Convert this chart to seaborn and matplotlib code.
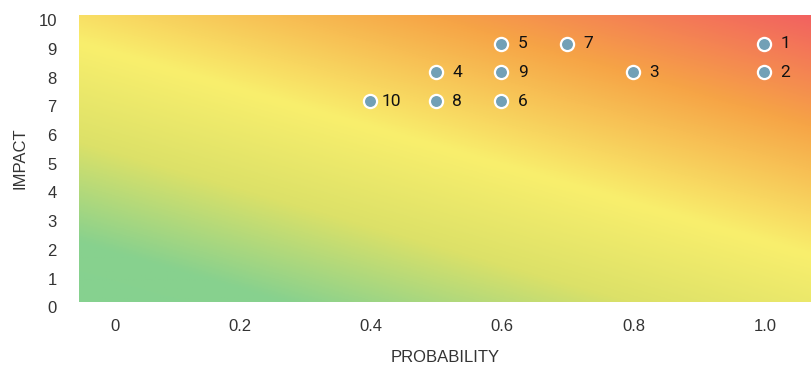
import numpy as np
import pandas as pd
import matplotlib
matplotlib.use("Agg")
import matplotlib.pyplot as plt
from matplotlib.colors import LinearSegmentedColormap
from matplotlib.transforms import ScaledTranslation
import seaborn as sns

# Risk register: id, probability, impact
risk_ids = ["1", "2", "3", "4", "5", "6", "7", "8", "9", "10"]
probability = [1.0, 1.0, 0.8, 0.5, 0.6, 0.6, 0.7, 0.5, 0.6, 0.4]
impact = [9, 8, 8, 8, 9, 7, 9, 7, 8, 7]

x_ticks = [0, 0.2, 0.4, 0.6, 0.8, 1.0]
x_tick_labels = ["0", "0.2", "0.4", "0.6", "0.8", "1.0"]
y_ticks = list(range(0, 11))
y_tick_labels = [str(v) for v in y_ticks]

df = pd.DataFrame({"id": risk_ids, "probability": probability, "impact": impact})

sns.set_theme(style="white")
plt.rcParams["font.family"] = ["Liberation Sans", "DejaVu Sans"]

fig = plt.figure(figsize=(8.11, 3.65), dpi=100)
ax = fig.add_axes([79 / 811, 63 / 365, 732 / 811, 287 / 365])

xlim = (-0.043, 1.0716)
ylim = (0, 10)
ax.set_xlim(*xlim)
ax.set_ylim(*ylim)

# Diagonal heat gradient: green (low risk) -> yellow -> orange -> red (high risk)
heat = LinearSegmentedColormap.from_list(
    "heat",
    [(0.00, "#86D190"), (0.12, "#88D18E"), (0.32, "#DCE168"),
     (0.52, "#F9EF6D"), (0.78, "#F6A446"), (1.00, "#F26260")],
)
u = np.linspace(0, 1, 600)
v = np.linspace(0, 1, 300)
U, V = np.meshgrid(u, v)
S = 0.425 * U + 0.575 * V
ax.imshow(S, cmap=heat, vmin=0, vmax=1, origin="lower", aspect="auto",
          extent=(xlim[0], xlim[1], ylim[0], ylim[1]), zorder=0,
          interpolation="bilinear")

sns.scatterplot(data=df, x="probability", y="impact", ax=ax, s=90,
                color="#72A0B6", edgecolor="white", linewidth=1.6,
                zorder=3, legend=False, clip_on=False)

for rid, px, py in zip(df["id"], df["probability"], df["impact"]):
    ax.annotate(rid, (px, py), xytext=(15.5, 0), textcoords="offset points",
                ha="center", va="center", fontsize=12.5, color="#111111",
                family=["Roboto", "DejaVu Sans"], zorder=4)

ax.set_xticks(x_ticks)
ax.set_xticklabels(x_tick_labels, fontsize=12, color="#333333", ha="right")
ax.set_yticks(y_ticks)
ax.set_yticklabels(y_tick_labels, fontsize=12, color="#333333")
ax.tick_params(axis="x", length=0, pad=12)
ax.tick_params(axis="y", length=0, pad=16)
for lbl in ax.get_xticklabels():
    lbl.set_transform(lbl.get_transform() + ScaledTranslation(9 / 72, 0, fig.dpi_scale_trans))
for lbl in ax.get_yticklabels():
    lbl.set_transform(lbl.get_transform() + ScaledTranslation(0, -3.8 / 72, fig.dpi_scale_trans))

ax.set_xlabel("PROBABILITY", fontsize=12, color="#333333", labelpad=12)
ax.set_ylabel("IMPACT", fontsize=12, color="#333333", labelpad=8)
ax.grid(False)
for sp in ax.spines.values():
    sp.set_visible(False)

fig.savefig("out.png", dpi=100)
